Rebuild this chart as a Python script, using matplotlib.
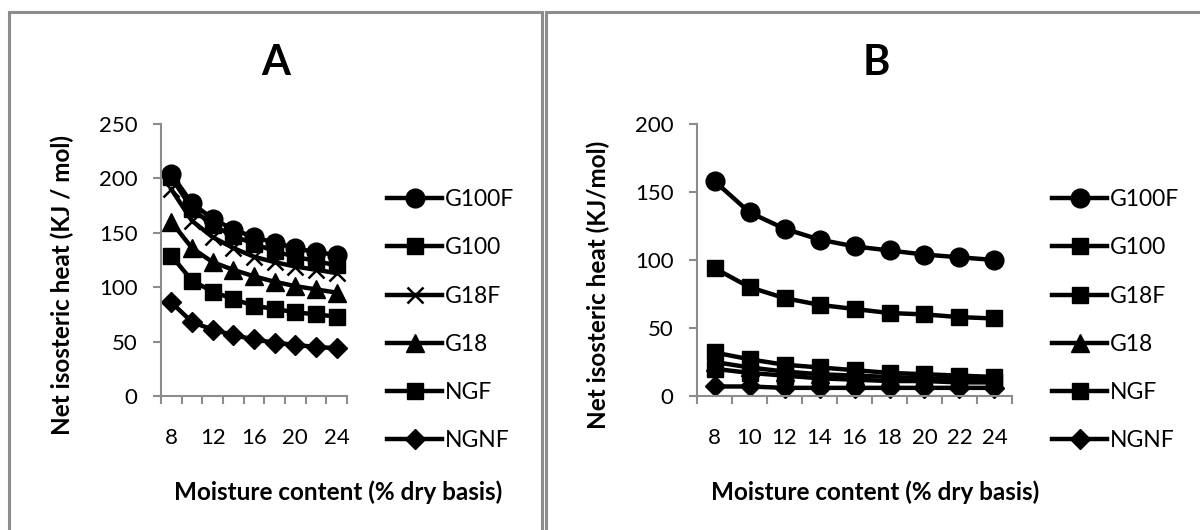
import matplotlib
matplotlib.use("Agg")
import matplotlib.pyplot as plt
from matplotlib.patches import Rectangle
from matplotlib.lines import Line2D

plt.rcParams['font.family'] = ['Lato', 'DejaVu Sans']

moisture = [8, 10, 12, 14, 16, 18, 20, 22, 24]
series_names = ["G100F", "G100", "G18F", "G18", "NGF", "NGNF"]

# Panel A values (kJ/mol)
a_G100F = [204, 177, 163, 153, 146, 141, 136, 132, 130]
a_G100 = [201, 172, 157, 147, 140, 133, 128, 124, 120]
a_G18F = [190, 161, 146, 136, 128, 123, 119, 116, 113]
a_G18 = [160, 136, 123, 116, 110, 105, 101, 98, 95]
a_NGF = [129, 106, 96, 89, 83, 80, 77, 75, 73]
a_NGNF = [86, 68, 61, 56, 52, 49, 47, 45, 44]

# Panel B values (kJ/mol)
b_G100F = [158, 135, 123, 115, 110, 107, 104, 102, 100]
b_G100 = [94, 80, 72, 67, 64, 61, 60, 58, 57]
b_G18F = [32, 27, 23, 21, 19, 17, 16, 15, 14]
b_G18 = [25, 21, 18, 16, 15, 14, 13, 12, 12]
b_NGF = [20, 17, 15, 13, 12, 11, 11, 10, 10]
b_NGNF = [7, 7, 6, 6, 6, 6, 6, 6, 6]

a_values = [a_G100F, a_G100, a_G18F, a_G18, a_NGF, a_NGNF]
b_values = [b_G100F, b_G100, b_G18F, b_G18, b_NGF, b_NGNF]

a_markers = ['o', 's', 'x', '^', 's', 'D']
b_markers = ['o', 's', 's', '^', 's', 'D']
msizes = {'o': 13.5, 's': 11.5, 'x': 12, '^': 13, 'D': 10.5}

W, H = 1200, 530
fig = plt.figure(figsize=(W / 100, H / 100), dpi=100)

GREY = '#8c8c8c'


def fx(px):
    return px / W


def fy(py):
    return 1 - py / H


# panel borders
fig.patches.append(Rectangle((fx(9), fy(545)), fx(542 - 9), fy(12) - fy(545),
                             transform=fig.transFigure, fill=False,
                             edgecolor=GREY, lw=2.2))
fig.patches.append(Rectangle((fx(546), fy(545)), fx(1215 - 546), fy(12) - fy(545),
                             transform=fig.transFigure, fill=False,
                             edgecolor=GREY, lw=2.2))


def make_panel(x0, x1, values, markers, ymax, title, title_x, ylabel,
               ylabel_x, xlabel_x, label_idx, leg_x):
    ax = fig.add_axes([fx(x0), fy(396), fx(x1 - x0), fy(124) - fy(396)])
    xs = list(range(len(moisture)))
    handles = []
    for name, vals, m in zip(series_names, values, markers):
        kw = dict(color='black', lw=3.2, marker=m, markersize=msizes[m],
                  markerfacecolor='black', markeredgecolor='black',
                  clip_on=False)
        if m == 'x':
            kw['markeredgewidth'] = 1.8
        ln, = ax.plot(xs, vals, label=name, **kw)
        handles.append(ln)
    ax.set_xlim(-0.5, len(moisture) - 0.5)
    ax.set_ylim(0, ymax)
    ax.set_yticks(range(0, ymax + 1, 50))
    ax.set_xticks([xs[i] for i in label_idx])
    ax.set_xticklabels([str(moisture[i]) for i in label_idx])
    ax.set_xticks([i - 0.5 for i in range(len(moisture) + 1)], minor=True)
    ax.tick_params(axis='x', which='major', length=0, pad=23, labelsize=16)
    ax.tick_params(axis='x', which='minor', length=6, width=1.5, color=GREY,
                   direction='out')
    ax.tick_params(axis='y', which='major', length=6, width=1.5, color=GREY,
                   labelsize=16, pad=11)
    for s in ['top', 'right']:
        ax.spines[s].set_visible(False)
    for s in ['left', 'bottom']:
        ax.spines[s].set_color(GREY)
        ax.spines[s].set_linewidth(1.5)
    fig.text(fx(title_x), fy(63), title, ha='center', va='center',
             fontsize=30, fontweight='bold')
    fig.text(fx(ylabel_x), fy(285), ylabel, ha='center', va='center',
             rotation=90, fontsize=17.5, fontweight='bold')
    fig.text(fx(xlabel_x), fy(492), "Moisture content (% dry basis)",
             ha='center', va='center', fontsize=17.5, fontweight='bold')
    leg_handles = [Line2D([0], [0], color='black', lw=3.2, marker=h.get_marker(),
                          markersize=h.get_markersize(),
                          markerfacecolor='black', markeredgecolor='black',
                          markeredgewidth=h.get_markeredgewidth())
                   for h in handles]
    fig.legend(leg_handles, series_names, loc='upper left',
               bbox_to_anchor=(fx(leg_x), fy(189)), frameon=False,
               fontsize=16.5, handlelength=2.4, handletextpad=0.12,
               labelspacing=1.19, borderpad=0, borderaxespad=0)
    return ax


make_panel(161, 347, a_values, a_markers, 250, "A", 276,
           "Net isosteric heat (KJ / mol)", 62, 338, [0, 2, 4, 6, 8], 387)
make_panel(697, 1012, b_values, b_markers, 200, "B", 876,
           "Net isosteric heat (KJ/mol)", 598, 875, list(range(9)), 1052)

fig.savefig("out.png", dpi=100)
